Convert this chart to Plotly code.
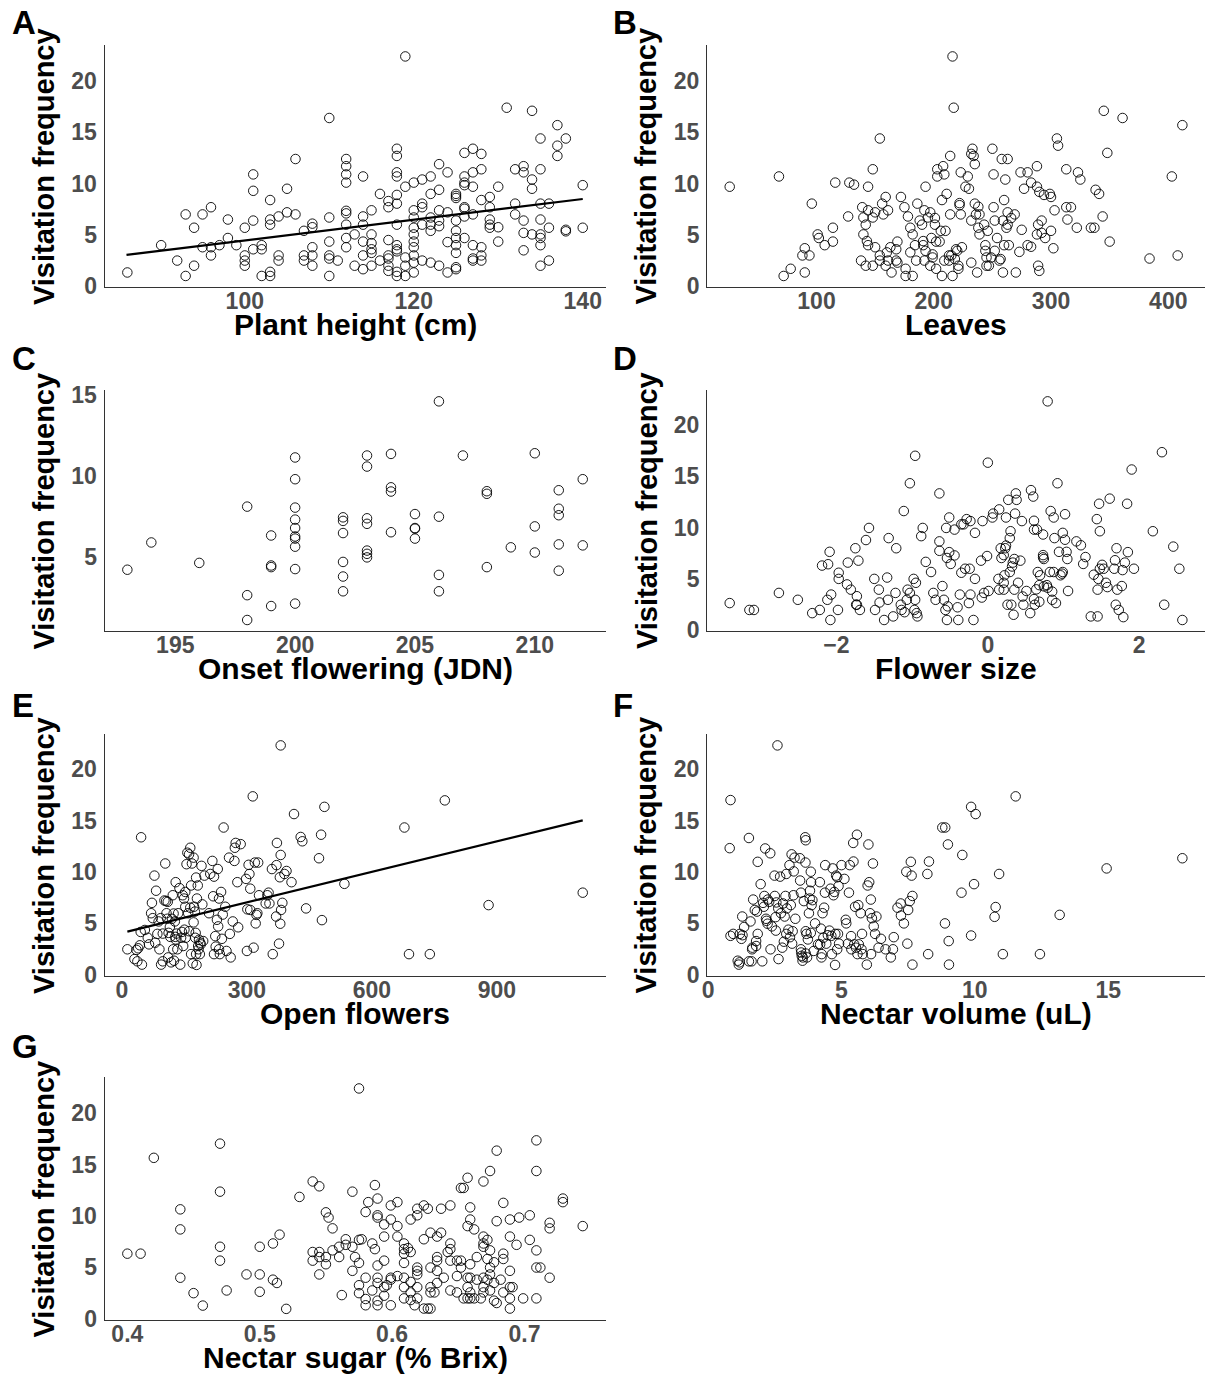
import plotly.graph_objects as go

W, H = 1206, 1393
FONT = "Liberation Sans, Arial, Helvetica, sans-serif"

# ---------------- Panel A: plant height ----------------
plant_height = [
    86.1, 90.1, 92, 93, 93, 94, 94, 95, 95, 96, 96, 96, 97, 98, 98, 99,
    100, 100, 100, 100, 101, 101, 101, 101, 102, 102, 102,
    103, 103, 103, 103, 103, 104, 104, 104, 105, 105, 106, 106,
    107, 107, 107, 108, 108, 108, 108, 108,
    110, 110, 110, 110, 110, 110, 111,
    112, 112, 112, 112, 112, 112, 112, 112, 112, 113, 113,
    114, 114, 114, 114, 114, 114, 115, 115, 115, 115, 115, 115, 116, 116,
    117, 117, 117, 117, 117, 117, 117,
    118, 118, 118, 118, 118, 118, 118, 118, 118, 118, 118, 118,
    119, 119, 119, 119, 119,
    120, 120, 120, 120, 120, 120, 120, 120, 120, 120,
    121, 121, 121, 121, 121, 122, 122, 122, 122, 122, 122,
    123, 123, 123, 123, 123, 123, 124, 124, 124, 124,
    125, 125, 125, 125, 125, 125, 125, 125, 125, 125,
    126, 126, 126, 126, 126, 126, 126, 126,
    127, 127, 127, 127, 127, 127, 127, 128, 128, 128, 128, 128, 128,
    129, 129, 129, 129, 129, 130, 130, 130, 131, 132, 132, 132,
    133, 133, 133, 133, 133, 134, 134, 134, 134,
    135, 135, 135, 135, 135, 135, 135, 135, 136, 136, 136,
    137, 137, 137, 138, 138, 138, 140, 140,
]
visits_a = [
    1.34, 4.0, 2.5, 7.0, 1.0, 5.7, 2.0, 7.0, 3.8, 7.7, 3.8, 3.0, 4.0, 6.5, 4.7, 4.0,
    5.7, 3.0, 2.5, 2.0, 10.9, 9.3, 6.4, 3.6, 4.0, 3.6, 1.0,
    8.4, 6.5, 6.0, 1.4, 1.0, 6.8, 3.0, 2.5, 9.5, 7.2, 12.4, 7.0,
    5.4, 3.0, 2.5, 6.1, 5.75, 3.8, 3.0, 2.0,
    16.4, 6.7, 4.35, 3.0, 2.7, 1.0, 2.5,
    12.4, 11.7, 10.9, 10.1, 7.35, 7.1, 6.0, 4.7, 3.8, 5.05, 2.0,
    10.7, 6.8, 6.0, 4.35, 3.0, 1.66, 7.4, 5.05, 4.2, 3.6, 3.25, 2.0, 9.0, 2.5,
    8.3, 7.7, 4.5, 3.0, 2.7, 2.0, 1.5,
    13.4, 12.7, 11.1, 10.7, 8.9, 8.05, 6.0, 4.0, 3.6, 3.4, 1.4, 1.0,
    22.4, 9.7, 2.8, 2.0, 1.0,
    10.1, 7.4, 6.7, 5.7, 5.05, 4.35, 3.8, 3.0, 2.3, 1.34,
    10.4, 8.05, 7.7, 6.0, 2.5, 10.7, 9.0, 6.7, 6.0, 5.4, 2.3,
    11.9, 9.4, 7.4, 6.4, 5.85, 2.0, 11.1, 7.2, 4.3, 1.34,
    9.0, 8.8, 8.6, 6.4, 5.4, 4.7, 4.0, 3.25, 1.85, 1.66,
    13.0, 10.7, 10.1, 9.85, 7.7, 7.55, 6.8, 4.7,
    13.4, 11.1, 9.7, 7.0, 4.0, 2.7, 2.5, 12.9, 11.4, 8.4, 3.8, 3.0, 2.5,
    8.7, 7.7, 6.5, 6.0, 5.7, 9.7, 5.75, 4.35, 17.4, 11.4, 8.05, 7.0,
    11.7, 11.1, 6.4, 5.2, 3.5, 17.1, 10.4, 9.5, 5.05,
    14.4, 11.4, 8.05, 6.5, 5.05, 4.7, 4.0, 2.0, 8.05, 5.7, 2.5,
    15.7, 13.7, 12.7, 14.4, 5.5, 5.35, 9.85, 5.7,
]
fit_a_x = [86, 140]
fit_a_y = [3.05, 8.5]

# ---------------- Panel B: leaves ----------------
leaves = [
    26, 68, 72, 78, 88, 90, 90, 94, 96, 101,
    102, 107, 114, 114, 116, 127, 128, 132, 138, 139,
    140, 140, 142, 142, 143, 144, 144, 144, 148, 148,
    148, 150, 150, 154, 154, 154, 156, 157, 159, 159,
    160, 161, 161, 163, 164, 168, 168, 169, 169, 172,
    175, 176, 176, 178, 180, 180, 182, 182, 184, 185,
    186, 188, 190, 191, 191, 192, 192, 193, 193, 195,
    197, 197, 198, 199, 199, 201, 201, 202, 202, 203,
    203, 205, 206, 207, 207, 208, 209, 209, 210, 211,
    213, 213, 214, 214, 215, 216, 216, 217, 218, 219,
    220, 221, 221, 222, 222, 223, 223, 224, 227, 229,
    230, 232, 232, 232, 233, 234, 235, 235, 236, 237,
    238, 238, 239, 239, 243, 244, 244, 245, 245, 246,
    247, 249, 250, 251, 251, 252, 252, 254, 256, 257,
    258, 259, 259, 260, 260, 261, 262, 263, 263, 263,
    264, 266, 269, 270, 273, 274, 275, 277, 280, 280,
    283, 283, 288, 288, 288, 289, 289, 290, 290, 292,
    292, 294, 295, 299, 300, 300, 302, 303, 305, 306,
    313, 313, 314, 317, 322, 323, 325, 334, 337, 338,
    341, 344, 345, 348, 350, 361, 384, 403, 408, 412,
]
visits_b = [
    9.7, 10.7, 1.0, 1.7, 3.0, 3.7, 1.34, 3.0, 8.05, 5.05,
    4.7, 4.0, 5.7, 4.35, 10.1, 6.8, 10.1, 9.9, 2.5, 7.7,
    5.05, 6.7, 6.0, 2.0, 4.4, 9.7, 7.4, 4.0, 11.4, 6.7,
    2.0, 7.2, 3.8, 14.4, 2.5, 3.0, 8.05, 7.0, 2.0, 8.7,
    3.3, 7.4, 2.5, 3.8, 1.34, 3.6, 2.5, 4.35, 2.3, 8.7,
    7.7, 1.7, 1.0, 6.8, 3.3, 5.7, 5.05, 1.0, 4.0, 2.5,
    8.05, 6.4, 6.0, 4.0, 4.4, 2.5, 7.4, 3.45, 9.7, 6.7,
    7.2, 2.0, 4.7, 2.8, 3.1, 6.65, 6.0, 1.7, 4.35, 10.7,
    11.4, 4.35, 5.4, 1.0, 8.4, 11.7, 10.9, 2.5, 5.4, 9.0,
    2.5, 3.0, 12.7, 7.0, 3.0, 22.4, 1.0, 17.4, 2.65, 3.6,
    3.45, 2.0, 1.7, 8.1, 7.9, 11.1, 7.0, 3.8, 9.7, 10.7,
    9.5, 12.9, 6.4, 2.3, 13.4, 12.7, 11.9, 8.05, 7.0, 1.34,
    7.75, 5.7, 5.05, 7.0, 6.0, 4.0, 3.45, 2.0, 2.8, 5.4,
    2.0, 2.8, 13.4, 10.9, 7.7, 6.4, 3.45, 4.7, 2.5, 2.65,
    12.4, 6.4, 1.34, 8.4, 4.0, 10.4, 5.7, 12.4, 7.2, 6.0,
    4.0, 6.65, 7.0, 1.34, 3.35, 11.1, 5.5, 9.5, 11.1, 4.0,
    3.85, 10.1, 11.7, 9.7, 5.05, 6.0, 2.0, 1.5, 9.2, 6.4,
    5.2, 8.9, 4.7, 9.0, 8.7, 5.4, 3.7, 7.4, 14.4, 13.7,
    11.4, 7.7, 6.5, 7.7, 5.7, 11.1, 10.4, 5.7, 5.7, 9.4,
    9.0, 6.8, 17.1, 13.0, 4.35, 16.4, 2.7, 10.7, 3.0, 15.7,
]

# ---------------- Panel C: onset flowering ----------------
onset_jdn = [
    193, 194, 196, 198, 198, 198, 199, 199, 199, 199,
    200, 200, 200, 200, 200, 200, 200, 200, 200, 200,
    202, 202, 202, 202, 202, 202,
    203, 203, 203, 203, 203, 203, 203,
    204, 204, 204, 204, 205, 205, 205, 205,
    206, 206, 206, 206, 207, 208, 208, 208, 209, 210, 210, 210,
    211, 211, 211, 211, 211, 212, 212,
]
visits_c = [
    4.24, 5.92, 4.66, 8.13, 2.67, 1.14, 6.35, 4.5, 4.4, 2.0,
    11.16, 9.82, 8.07, 7.33, 6.81, 6.29, 6.16, 5.66, 4.28, 2.15,
    7.47, 7.25, 6.5, 4.72, 3.82, 2.91,
    11.28, 10.6, 7.41, 7.07, 5.42, 5.22, 5.0,
    11.38, 9.32, 9.06, 6.55, 7.67, 6.81, 6.77, 6.16,
    14.62, 7.51, 3.92, 2.91, 11.28, 9.08, 8.92, 4.4, 5.62, 11.42, 6.91, 5.3,
    9.14, 8.0, 7.6, 5.8, 4.18, 9.82, 5.74,
]

# ---------------- Panel D: flower size ----------------
flower_size = [
    -3.41, -3.15, -3.09, -2.76, -2.51, -2.32, -2.22, -2.19, -2.11, -2.12,
    -2.09, -2.07, -2.08, -1.98, -1.97, -1.97, -1.86, -1.85, -1.81, -1.75,
    -1.74, -1.73, -1.73, -1.71, -1.69, -1.61, -1.57, -1.5, -1.49, -1.44,
    -1.43, -1.37, -1.33, -1.32, -1.31, -1.25, -1.22, -1.21, -1.15, -1.14,
    -1.11, -1.1, -1.07, -1.06, -1.03, -1.03, -0.98, -0.97, -0.96, -0.96,
    -0.95, -0.94, -0.93, -0.88, -0.86, -0.82, -0.75, -0.72, -0.69, -0.64,
    -0.64, -0.64, -0.6, -0.58, -0.56, -0.54, -0.53, -0.54, -0.55, -0.51,
    -0.51, -0.49, -0.44, -0.44, -0.40, -0.39, -0.37, -0.35, -0.35, -0.32,
    -0.30, -0.28, -0.25, -0.24, -0.23, -0.23, -0.19, -0.17, -0.17, -0.09,
    -0.08, -0.07, -0.05, -0.01, 0.0, 0.01, 0.06, 0.07, 0.14, 0.15,
    0.15, 0.17, 0.18, 0.21, 0.21, 0.21, 0.22, 0.23, 0.24, 0.24,
    0.26, 0.27, 0.29, 0.29, 0.30, 0.31, 0.32, 0.33, 0.34, 0.35,
    0.35, 0.36, 0.37, 0.38, 0.40, 0.43, 0.45, 0.46, 0.47, 0.51,
    0.56, 0.57, 0.60, 0.61, 0.61, 0.61, 0.62, 0.64, 0.65, 0.66,
    0.68, 0.68, 0.69, 0.73, 0.73, 0.73, 0.74, 0.74, 0.78, 0.79,
    0.79, 0.82, 0.83, 0.85, 0.85, 0.87, 0.87, 0.88, 0.90, 0.92,
    0.94, 0.96, 0.98, 0.99, 0.99, 1.02, 1.02, 1.04, 1.05, 1.06,
    1.17, 1.23, 1.26, 1.29, 1.36, 1.40, 1.44, 1.45, 1.45, 1.46,
    1.47, 1.48, 1.48, 1.51, 1.53, 1.56, 1.58, 1.61, 1.67, 1.68,
    1.69, 1.70, 1.71, 1.73, 1.77, 1.78, 1.79, 1.81, 1.84, 1.85,
    1.90, 1.93, 2.18, 2.30, 2.33, 2.45, 2.53, 2.57,
]
visits_d = [
    2.64, 1.97, 1.97, 3.63, 2.96, 1.66, 1.97, 6.3, 6.43, 2.96,
    7.64, 3.47, 0.99, 1.97, 5.6, 5.0, 4.46, 6.59, 3.95, 7.99,
    2.48, 3.31, 2.48, 6.78, 1.97, 8.79, 9.97, 5.0, 1.97, 3.95,
    2.7, 0.99, 5.13, 2.96, 8.98, 1.34, 3.63, 7.99, 2.48, 1.97,
    11.62, 1.75, 2.96, 3.95, 3.63, 14.33, 5.0, 1.97, 2.96, 17.01,
    4.62, 1.66, 1.34, 9.17, 9.97, 6.66, 5.67, 3.63, 2.96, 7.74,
    13.34, 8.66, 4.3, 2.96, 1.97, 0.99, 2.32, 7.04, 9.97, 7.61,
    10.99, 6.46, 7.29, 9.81, 2.23, 0.99, 3.47, 5.6, 10.32, 10.32,
    5.99, 10.83, 2.64, 5.99, 3.47, 10.64, 0.99, 9.49, 5.0, 6.78,
    3.18, 10.64, 3.63, 7.23, 16.34, 3.82, 10.99, 11.37, 5.0, 11.78,
    3.95, 7.99, 7.04, 3.95, 4.62, 7.32, 5.35, 7.99, 10.99, 8.25,
    2.48, 12.71, 5.67, 8.98, 9.65, 2.48, 6.21, 6.59, 1.5, 3.95,
    6.94, 11.37, 13.34, 12.71, 4.62, 6.78, 10.64, 3.28, 2.48, 3.82,
    1.66, 13.66, 13.03, 3.03, 10.67, 9.81, 2.48, 3.98, 9.81, 5.67,
    4.39, 2.77, 5.35, 9.33, 7.32, 7.1, 6.94, 4.27, 4.39, 4.14,
    22.32, 5.67, 11.62, 2.96, 3.76, 5.67, 10.99, 8.98, 2.64, 14.33,
    7.64, 5.35, 5.51, 5.67, 9.49, 11.31, 8.82, 7.64, 6.94, 3.82,
    8.66, 8.28, 6.46, 7.13, 1.34, 5.41, 10.83, 1.34, 3.95, 5.0,
    12.33, 5.99, 9.65, 6.37, 5.99, 4.62, 4.2, 12.83, 5.99, 6.82,
    2.48, 7.99, 3.95, 1.97, 4.3, 5.86, 1.27, 6.59, 12.33, 7.61,
    15.67, 5.99, 9.65, 17.36, 2.48, 8.15, 5.99, 0.99,
]

# ---------------- Panel E: open flowers ----------------
open_flowers = [
    13, 30, 35, 39, 37, 43, 46, 48, 45, 55,
    62, 65, 70, 72, 74, 78, 80, 82, 85, 88,
    90, 93, 94, 98, 98, 102, 104, 106, 107, 109,
    110, 111, 112, 115, 116, 118, 120, 122, 123, 124,
    125, 127, 128, 129, 129, 131, 133, 135, 138, 140,
    142, 144, 146, 147, 149, 150, 152, 152, 153, 155,
    157, 159, 161, 161, 164, 164, 166, 166, 168, 170,
    172, 172, 173, 175, 176, 177, 178, 178, 179, 180,
    182, 183, 184, 185, 187, 188, 189, 191, 193, 195,
    198, 209, 212, 217, 219, 221, 221, 224, 225, 228,
    230, 231, 233, 233, 235, 238, 240, 242, 244, 248,
    251, 257, 259, 261, 266, 270, 271, 273, 277, 279,
    285, 298, 300, 301, 304, 306, 308, 308, 314, 316,
    319, 321, 323, 325, 327, 329, 345, 349, 352, 354,
    360, 362, 370, 371, 372, 377, 379, 380, 381, 381,
    382, 385, 390, 395, 407, 413, 429, 433, 442, 473,
    478, 480, 486, 534, 678, 689, 739, 775, 880, 1106,
]
visits_e = [
    2.48, 1.53, 2.42, 2.58, 1.31, 2.87, 13.38, 0.99, 4.17, 4.36,
    3.6, 2.96, 5.99, 7.0, 5.51, 9.65, 3.12, 8.18, 3.98, 5.19,
    2.48, 5.51, 0.99, 1.31, 4.01, 7.23, 10.83, 7.17, 5.99, 5.45,
    7.1, 1.69, 4.08, 4.65, 3.69, 1.21, 5.45, 7.74, 2.48, 5.96,
    1.37, 5.19, 3.69, 3.44, 9.01, 4.01, 2.48, 5.99, 8.44, 0.99,
    3.6, 4.17, 7.74, 2.8, 7.42, 4.39, 6.62, 8.06, 3.6, 10.76,
    11.88, 5.99, 4.24, 11.72, 12.36, 6.53, 2.01, 8.69, 10.83, 1.11,
    5.1, 11.4, 6.62, 6.15, 3.6, 4.08, 9.46, 2.01, 0.96, 7.42,
    8.69, 2.8, 2.48, 3.41, 2.01, 3.12, 2.96, 10.6, 6.85, 3.28,
    9.65, 5.99, 9.81, 11.08, 7.64, 9.55, 2.01, 3.76, 2.74, 5.35,
    10.29, 4.71, 7.42, 2.48, 2.01, 8.06, 3.5, 5.86, 14.33, 6.62,
    2.32, 11.4, 3.98, 1.69, 5.19, 11.08, 12.36, 12.83, 9.01, 4.62,
    12.71, 9.33, 2.32, 6.37, 10.7, 9.81, 6.31, 8.38, 17.36, 2.64,
    10.92, 5.0, 5.83, 5.99, 10.92, 7.74, 6.94, 7.74, 7.99, 6.94,
    10.29, 2.01, 5.67, 10.67, 12.83, 3.03, 9.49, 4.97, 22.32, 11.66,
    6.31, 7.0, 9.81, 10.1, 9.01, 15.64, 13.41, 12.99, 6.46, 11.34,
    13.63, 5.32, 16.34, 8.85, 14.33, 2.01, 2.01, 16.97, 6.78, 7.99,
]
fit_e_x = [13, 1106]
fit_e_y = [4.2, 15.03]

# ---------------- Panel F: nectar volume ----------------
nectar_volume = [
    0.81, 0.84, 0.84, 0.94, 1.11, 1.15, 1.18, 1.19, 1.25, 1.28,
    1.29, 1.35, 1.53, 1.53, 1.59, 1.63, 1.65, 1.66, 1.69, 1.75,
    1.8, 1.8, 1.83, 1.86, 1.86, 1.97, 2.03, 2.06, 2.09, 2.11,
    2.14, 2.17, 2.19, 2.23, 2.24, 2.29, 2.33, 2.34, 2.39, 2.49,
    2.5, 2.53, 2.54, 2.56, 2.6, 2.63, 2.64, 2.7, 2.73, 2.78,
    2.81, 2.84, 2.87, 2.9, 2.93, 2.93, 2.95, 3.01, 3.05, 3.07,
    3.1, 3.13, 3.15, 3.17, 3.2, 3.21, 3.24, 3.27, 3.44, 3.45,
    3.48, 3.48, 3.49, 3.51, 3.54, 3.55, 3.59, 3.64, 3.65, 3.66,
    3.66, 3.66, 3.69, 3.71, 3.74, 3.78, 3.81, 3.82, 3.85, 3.85,
    3.86, 3.88, 3.91, 3.96, 4.01, 4.12, 4.19, 4.2, 4.23, 4.25,
    4.26, 4.29, 4.32, 4.35, 4.38, 4.39, 4.43, 4.49, 4.55, 4.59,
    4.62, 4.64, 4.67, 4.7, 4.73, 4.76, 4.77, 4.8, 4.84, 4.84,
    4.87, 4.89, 4.91, 5.0, 5.11, 5.16, 5.18, 5.24, 5.28, 5.31,
    5.36, 5.37, 5.44, 5.45, 5.48, 5.51, 5.54, 5.58, 5.6, 5.63,
    5.65, 5.72, 5.75, 5.77, 5.8, 5.95, 5.98, 6.01, 6.04, 6.07,
    6.1, 6.11, 6.14, 6.18, 6.21, 6.26, 6.31, 6.39, 6.48, 6.65,
    6.85, 6.93, 6.96, 7.1, 7.22, 7.23, 7.34, 7.43, 7.47, 7.5,
    7.56, 7.6, 7.63, 7.66, 7.66, 8.22, 8.25, 8.28, 8.78, 8.89,
    8.88, 8.99, 9.02, 9.03, 9.5, 9.53, 9.86, 9.86, 9.97, 10.03,
    10.74, 10.78, 10.91, 11.05, 11.53, 12.44, 13.18, 14.94, 17.78,
]
visits_f = [
    12.32, 17.0, 3.79, 3.98, 1.37, 0.99, 1.21, 3.98, 3.5, 5.67,
    3.85, 4.65, 13.31, 1.31, 5.19, 1.31, 2.48, 2.64, 7.32, 6.31,
    3.28, 2.8, 6.15, 10.99, 3.98, 8.82, 1.31, 7.0, 6.62, 7.67,
    12.29, 5.45, 5.25, 4.97, 7.32, 7.1, 11.82, 2.48, 4.71, 9.65,
    7.67, 5.61, 4.3, 7.04, 22.32, 6.46, 1.53, 9.55, 5.99, 2.64,
    6.94, 3.22, 5.67, 7.67, 9.81, 3.98, 6.46, 4.39, 10.67, 3.66,
    6.78, 11.72, 3.03, 4.24, 7.74, 10.06, 11.4, 5.45, 11.34, 9.17,
    7.99, 2.48, 2.17, 1.85, 1.37, 1.69, 7.17, 13.38, 10.92, 13.09,
    4.24, 2.07, 3.98, 1.69, 3.44, 5.99, 7.42, 8.18, 10.03, 4.08,
    9.01, 6.78, 7.26, 2.32, 5.0, 2.96, 9.01, 2.96, 4.49, 1.69,
    2.01, 5.99, 3.6, 6.53, 7.99, 10.67, 3.03, 3.85, 4.3, 8.38,
    3.79, 2.01, 10.35, 7.74, 8.06, 0.96, 3.98, 9.65, 2.48, 9.49,
    3.98, 8.63, 3.03, 10.67, 9.33, 5.35, 5.0, 3.03, 7.99, 10.67,
    3.76, 2.48, 12.83, 11.02, 2.96, 6.62, 2.64, 13.63, 2.01, 6.78,
    2.96, 5.99, 2.48, 3.98, 2.01, 0.99, 8.69, 12.68, 9.01, 5.99,
    7.32, 2.01, 5.51, 10.83, 4.71, 3.98, 5.67, 2.64, 3.5, 2.48,
    1.69, 2.48, 3.66, 6.53, 6.94, 5.76, 5.0, 10.03, 3.03, 6.31,
    7.17, 10.99, 9.65, 0.99, 7.67, 9.81, 2.01, 11.02, 14.33, 14.33,
    5.0, 12.68, 3.28, 0.99, 7.99, 11.66, 16.34, 3.82, 8.82, 15.64,
    5.64, 6.59, 9.81, 2.01, 17.36, 2.01, 5.83, 10.35, 11.34,
]

# ---------------- Panel G: nectar sugar ----------------
nectar_sugar = [
    0.400, 0.410, 0.420, 0.440, 0.440, 0.440, 0.450, 0.457, 0.470, 0.470,
    0.470, 0.470, 0.475, 0.490, 0.500, 0.500, 0.500, 0.510, 0.510, 0.513,
    0.515, 0.520, 0.530, 0.540, 0.540, 0.540, 0.545, 0.545, 0.545, 0.545,
    0.550, 0.550, 0.550, 0.552, 0.555, 0.555, 0.560, 0.560, 0.562, 0.565,
    0.565, 0.570, 0.570, 0.570, 0.572, 0.575, 0.575, 0.575, 0.575, 0.575,
    0.577, 0.580, 0.580, 0.580, 0.580, 0.582, 0.585, 0.585, 0.587, 0.587,
    0.589, 0.589, 0.589, 0.589, 0.589, 0.589, 0.589, 0.589, 0.594, 0.594,
    0.594, 0.594, 0.594, 0.596, 0.599, 0.599, 0.599, 0.599, 0.599, 0.604,
    0.604, 0.604, 0.604, 0.609, 0.609, 0.609, 0.609, 0.609, 0.609, 0.609,
    0.612, 0.614, 0.614, 0.614, 0.614, 0.614, 0.617, 0.619, 0.619, 0.619,
    0.619, 0.619, 0.619, 0.619, 0.624, 0.624, 0.624, 0.627, 0.627, 0.629,
    0.629, 0.629, 0.629, 0.629, 0.632, 0.634, 0.634, 0.634, 0.634, 0.634,
    0.637, 0.637, 0.639, 0.642, 0.644, 0.644, 0.644, 0.644, 0.644, 0.649,
    0.649, 0.649, 0.652, 0.652, 0.652, 0.654, 0.654, 0.657, 0.657, 0.657,
    0.657, 0.657, 0.659, 0.659, 0.659, 0.659, 0.659, 0.659, 0.662, 0.662,
    0.664, 0.664, 0.667, 0.669, 0.669, 0.669, 0.669, 0.669, 0.669, 0.669,
    0.672, 0.672, 0.672, 0.674, 0.674, 0.674, 0.674, 0.674, 0.677, 0.677,
    0.677, 0.679, 0.679, 0.679, 0.682, 0.684, 0.684, 0.684, 0.684, 0.689,
    0.689, 0.689, 0.689, 0.689, 0.689, 0.691, 0.694, 0.696, 0.699, 0.704,
    0.704, 0.709, 0.709, 0.709, 0.709, 0.709, 0.712, 0.719, 0.719, 0.719,
    0.729, 0.729, 0.744,
]
visits_g = [
    6.33, 6.33, 15.65, 10.64, 8.69, 3.99, 2.49, 1.28, 17.03, 12.36,
    7.0, 5.65, 2.75, 4.31, 7.0, 4.31, 2.62, 7.32, 3.8, 3.48,
    8.18, 0.96, 11.85, 13.35, 6.49, 5.65, 12.88, 6.49, 6.0, 4.31,
    10.35, 6.0, 5.3, 9.84, 8.79, 6.65, 6.0, 7.0, 2.3, 7.73,
    7.19, 12.36, 7.0, 4.66, 6.0, 22.4, 7.67, 5.43, 3.26, 2.49,
    7.73, 3.99, 1.92, 1.31, 10.38, 11.34, 7.32, 2.75, 13.0, 6.77,
    11.69, 10.06, 9.84, 5.18, 3.99, 3.48, 1.76, 1.31, 7.99, 9.17,
    5.65, 3.07, 2.24, 3.26, 11.02, 9.65, 3.99, 3.8, 1.31, 11.34,
    9.01, 7.99, 4.15, 3.99, 3.07, 1.98, 7.32, 6.77, 6.33, 5.43,
    6.87, 6.49, 9.65, 3.58, 2.56, 1.82, 1.31, 3.07, 1.98, 10.06,
    10.7, 4.98, 4.66, 4.31, 11.02, 7.73, 0.99, 10.7, 0.99, 8.37,
    4.98, 3.07, 2.56, 0.99, 2.56, 7.99, 6.0, 5.65, 4.66, 3.48,
    10.7, 8.37, 3.99, 6.49, 11.02, 7.32, 6.77, 5.65, 2.75, 4.15,
    2.56, 5.65, 12.72, 4.98, 5.65, 12.72, 1.98, 13.71, 9.01, 3.99,
    3.07, 1.98, 10.83, 9.65, 5.3, 3.99, 2.56, 1.98, 8.69, 1.98,
    3.8, 6.0, 1.98, 13.35, 7.99, 7.32, 7.0, 3.99, 3.07, 2.56,
    7.67, 5.81, 3.8, 14.37, 6.65, 4.98, 4.31, 2.75, 5.49, 3.48,
    1.76, 16.35, 9.49, 1.53, 3.8, 11.27, 5.81, 6.33, 2.56, 9.65,
    7.99, 4.66, 3.07, 1.98, 0.99, 3.07, 7.19, 9.84, 1.98, 10.06,
    7.67, 17.35, 14.37, 6.65, 4.98, 1.98, 4.98, 3.99, 9.33, 8.79,
    11.69, 11.34, 9.01,
]

# ---------------- layout / drawing ----------------
panels = [
    dict(letter="A", x=plant_height, y=visits_a, xt=[100, 120, 140], yt=[0, 5, 10, 15, 20],
         title="Plant height (cm)", col=0, row=0, fit=(fit_a_x, fit_a_y)),
    dict(letter="B", x=leaves, y=visits_b, xt=[100, 200, 300, 400], yt=[0, 5, 10, 15, 20],
         title="Leaves", col=1, row=0, fit=None),
    dict(letter="C", x=onset_jdn, y=visits_c, xt=[195, 200, 205, 210], yt=[5, 10, 15],
         title="Onset flowering (JDN)", col=0, row=1, fit=None),
    dict(letter="D", x=flower_size, y=visits_d, xt=[-2, 0, 2], yt=[0, 5, 10, 15, 20],
         title="Flower size", col=1, row=1, fit=None),
    dict(letter="E", x=open_flowers, y=visits_e, xt=[0, 300, 600, 900], yt=[0, 5, 10, 15, 20],
         title="Open flowers", col=0, row=2, fit=(fit_e_x, fit_e_y)),
    dict(letter="F", x=nectar_volume, y=visits_f, xt=[0, 5, 10, 15], yt=[0, 5, 10, 15, 20],
         title="Nectar volume (uL)", col=1, row=2, fit=None),
    dict(letter="G", x=nectar_sugar, y=visits_g, xt=[0.4, 0.5, 0.6, 0.7], yt=[0, 5, 10, 15, 20],
         title="Nectar sugar (% Brix)", col=0, row=3, fit=None),
]

cols = [(100, 603), (705, 1205)]
rows = [(38, 283), (388, 632), (737, 982), (1085, 1331)]
letter_y = [15, 356, 708, 1054]
letter_x = [5, 609]


def expand(v):
    lo, hi = min(v), max(v)
    pad = 0.05 * (hi - lo)
    return [lo - pad, hi + pad]


fig = go.Figure()
annotations = []
layout_axes = {}
for i, p in enumerate(panels, start=1):
    assert len(p["x"]) == len(p["y"]), (p["letter"], len(p["x"]), len(p["y"]))
    sfx = "" if i == 1 else str(i)
    l, r = cols[p["col"]]
    t, b = rows[p["row"]]
    fig.add_trace(go.Scatter(
        x=p["x"], y=p["y"], mode="markers", xaxis="x" + sfx, yaxis="y" + sfx,
        marker=dict(symbol="circle-open", size=9.5, color="black", line=dict(width=0.9)),
        showlegend=False, hoverinfo="skip"))
    if p["fit"]:
        fig.add_trace(go.Scatter(
            x=p["fit"][0], y=p["fit"][1], mode="lines", xaxis="x" + sfx, yaxis="y" + sfx,
            line=dict(color="black", width=2.2), showlegend=False, hoverinfo="skip"))
    common = dict(showline=True, linecolor="#333333", linewidth=1.1, ticks="",
                  showgrid=False, zeroline=False,
                  tickfont=dict(family=FONT, size=23, color="#4D4D4D", weight="bold"))
    layout_axes["xaxis" + sfx] = dict(domain=[l / W, r / W], range=expand(p["x"]),
                                      anchor="y" + sfx, tickvals=p["xt"],
                                      ticklabelstandoff=-7, **common)
    layout_axes["yaxis" + sfx] = dict(domain=[1 - b / H, 1 - t / H], range=expand(p["y"]),
                                      anchor="x" + sfx, tickvals=p["yt"],
                                      ticklabelstandoff=2, **common)
    # axis titles
    annotations.append(dict(text=p["title"], xref="paper", yref="paper",
                            x=(l + r) / 2 / W, y=1 - (b + 38) / H, xanchor="center", yanchor="middle",
                            showarrow=False, font=dict(family=FONT, size=30, color="black", weight="bold")))
    annotations.append(dict(text="Visitation frequency", xref="paper", yref="paper",
                            x=(l - 61) / W, y=1 - (t + b) / 2 / H, xanchor="center", yanchor="middle",
                            textangle=-90, showarrow=False,
                            font=dict(family=FONT, size=29, color="black", weight="bold")))
    annotations.append(dict(text=p["letter"], xref="paper", yref="paper",
                            x=letter_x[p["col"]] / W, y=1 - letter_y[p["row"]] / H,
                            xanchor="left", yanchor="middle", showarrow=False,
                            font=dict(family=FONT, size=33, color="black", weight="bold")))

fig.update_layout(width=W, height=H, margin=dict(l=0, r=0, t=0, b=0),
                  paper_bgcolor="white", plot_bgcolor="white",
                  annotations=annotations, **layout_axes)
fig.write_html("out.html")
